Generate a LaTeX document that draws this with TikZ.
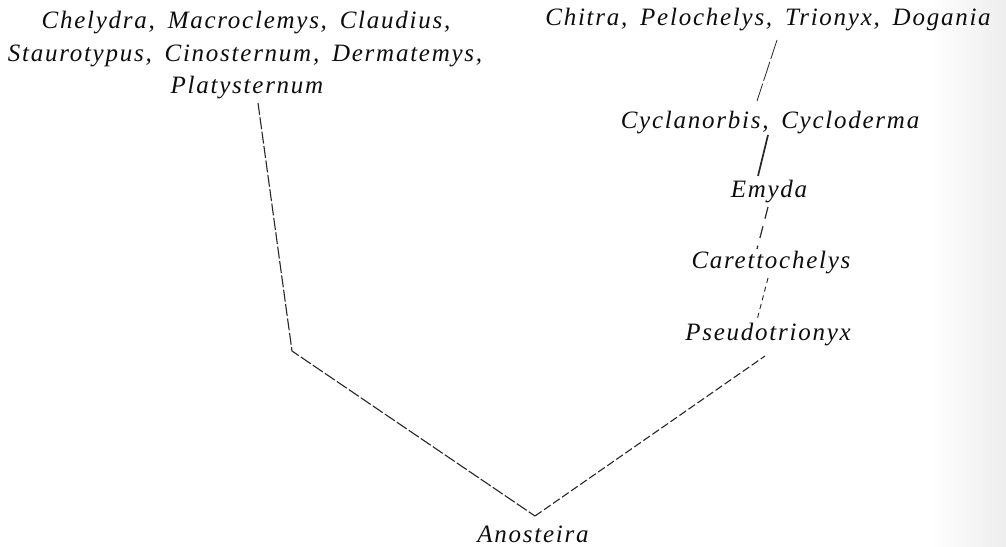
\documentclass[tikz,border=0pt]{standalone}
\usepackage{fontspec}
\setmainfont{Liberation Serif}[LetterSpace=7,WordSpace=1.6]
\begin{document}
\begin{tikzpicture}[x=1pt,y=-1pt,
  lbl/.style={anchor=base,inner sep=0pt,font=\fontsize{25}{30}\selectfont\itshape,text=black!95},
  ln/.style={draw=black!85,line width=1.1pt},
  longdash/.style={ln,dash pattern=on 12pt off 2.5pt},
  meddash/.style={ln,dash pattern=on 8pt off 3pt},
  thinlong/.style={ln,line width=0.8pt,dash pattern=on 20pt off 3pt},
  solidthick/.style={ln,line width=1.7pt},
  twodash/.style={ln,line width=1.2pt,dash pattern=on 12pt off 8pt},
  finedash/.style={ln,line width=0.9pt,dash pattern=on 5pt off 4pt}]
\useasboundingbox (0,0) rectangle (1006,546);
\shade[left color=white,right color=black!7] (930,0) rectangle (1006,546);
% left group
\node[lbl] (l1) at (246,28) {Chelydra, Macroclemys, Claudius,};
\node[lbl] (l2) at (245,61) {Staurotypus, Cinosternum, Dermatemys,};
\node[lbl] (plat) at (247,93) {Platysternum};
% right group
\node[lbl] (chitra) at (768,25) {Chitra, Pelochelys, Trionyx, Dogania};
\node[lbl] (cycl) at (770,128) {Cyclanorbis, Cycloderma};
\node[lbl] (emyda) at (769,197) {Emyda};
\node[lbl] (caret) at (771,268) {Carettochelys};
\node[lbl] (pseudo) at (768,340) {Pseudotrionyx};
\node[lbl] (anost) at (533,542) {Anosteira};
% junction points
\coordinate (platend) at (258,103);
\coordinate (corner) at (292,351);
\coordinate (apex) at (535,516);
\coordinate (pseudoend) at (765,356);
\coordinate (chitraend) at (777,40);
\coordinate (cyclup) at (757,101);
\coordinate (cycldown) at (768,135);
\coordinate (emydaup) at (758,176);
\coordinate (emydadown) at (768,207);
\coordinate (caretup) at (757,249);
\coordinate (caretdown) at (768,278);
\coordinate (pseudoup) at (757,320);
% connectors
\draw[longdash] (platend) -- (corner) -- (apex);
\draw[meddash] (apex) -- (pseudoend);
\draw[thinlong] (chitraend) -- (cyclup);
\draw[solidthick] (cycldown) -- (emydaup);
\draw[twodash] (emydadown) -- (caretup);
\draw[finedash] (caretdown) -- (pseudoup);
\end{tikzpicture}
\end{document}
